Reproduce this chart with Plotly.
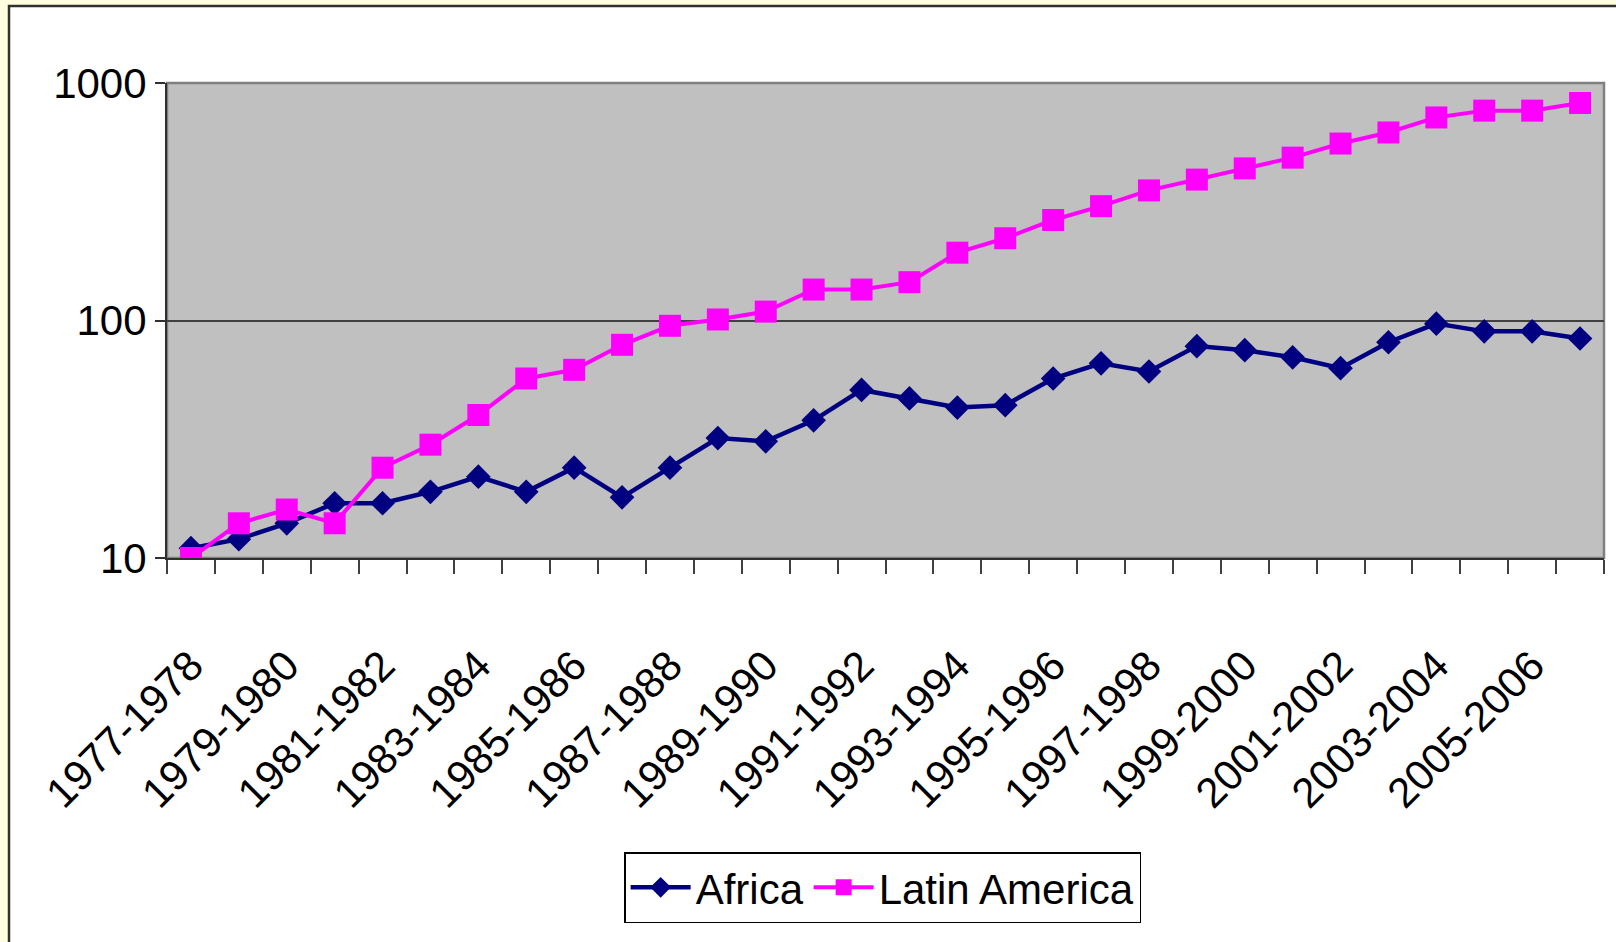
import plotly.graph_objects as go

# Two-year periods (one point per period)
periods = [f"{y}-{y + 1}" for y in range(1977, 2007)]

africa = [11, 12, 14, 17, 17, 19, 22, 19, 24, 18,
          24, 32, 31, 38, 51, 47, 43, 44, 57, 66,
          61, 78, 75, 70, 63, 81, 97, 90, 90, 84]

latin_america = [10, 14, 16, 14, 24, 30, 40, 57, 62, 79,
                 95, 101, 109, 135, 135, 145, 193, 222, 265, 303,
                 353, 392, 437, 485, 556, 619, 716, 765, 765, 824]

y_ticks = [10, 100, 1000]

FONT = "Liberation Sans, Arial, sans-serif"

W, H = 1616, 942
L, R, T, B = 167, 12, 83, 384
pw, ph = W - L - R, H - T - B

xpos = list(range(len(periods)))

fig = go.Figure()
fig.add_trace(go.Scatter(
    x=xpos, y=africa, name="Africa", mode="lines+markers",
    line=dict(color="#000080", width=4.5),
    marker=dict(symbol="diamond", size=19, color="#000080"),
))
fig.add_trace(go.Scatter(
    x=xpos, y=latin_america, name="Latin America", mode="lines+markers",
    line=dict(color="#FF00FF", width=4),
    marker=dict(symbol="square", size=22, color="#FF00FF"),
))

def px_x(p):
    return (p - L) / pw

def px_y(p):
    return (H - B - p) / ph

shapes = [
    # white chart sheet with dark frame on the pale yellow page
    dict(type="rect", xref="paper", yref="paper", layer="below",
         x0=px_x(9), x1=px_x(W + 20), y0=px_y(H + 20), y1=px_y(6),
         fillcolor="white", line=dict(color="#303030", width=2.5)),
    # grey plotting area
    dict(type="rect", xref="paper", yref="paper", layer="below",
         x0=0, x1=1, y0=0, y1=1,
         fillcolor="#C0C0C0", line=dict(color="#808080", width=2.5)),
]

fig.update_layout(
    width=W, height=H,
    margin=dict(l=L, r=R, t=T, b=B, pad=0),
    paper_bgcolor="#FFFFE0",
    plot_bgcolor="#C0C0C0",
    shapes=shapes,
    font=dict(family=FONT, size=42, color="black"),
    showlegend=True,
    legend=dict(
        orientation="h", x=0.498, y=px_y(852), xanchor="center", yanchor="top",
        bgcolor="white", bordercolor="black", borderwidth=1.5,
        font=dict(family=FONT, size=42, color="black"),
        itemwidth=60, tracegroupgap=0,
    ),
    xaxis=dict(
        range=[-0.5, len(periods) - 0.5],
        tickvals=xpos[::2], ticktext=periods[::2],
        tickangle=-45, ticks="", ticklabelstandoff=64,
        showgrid=False, zeroline=False,
        showline=True, linecolor="#303030", linewidth=2,
        minor=dict(ticks="outside", ticklen=14, tick0=-0.5, dtick=1,
                   tickcolor="#404040", tickwidth=1.5, showgrid=False),
        tickfont=dict(family=FONT, size=42, color="black"),
    ),
    yaxis=dict(
        type="log", range=[1, 3],
        tickvals=y_ticks, ticktext=[str(v) for v in y_ticks],
        ticks="outside", ticklen=10, tickcolor="#303030", tickwidth=1.5,
        showgrid=True, gridcolor="#404040", gridwidth=1.5,
        zeroline=False,
        showline=True, linecolor="#303030", linewidth=2,
        tickfont=dict(family=FONT, size=42, color="black"),
    ),
)

fig.write_html("out.html")
